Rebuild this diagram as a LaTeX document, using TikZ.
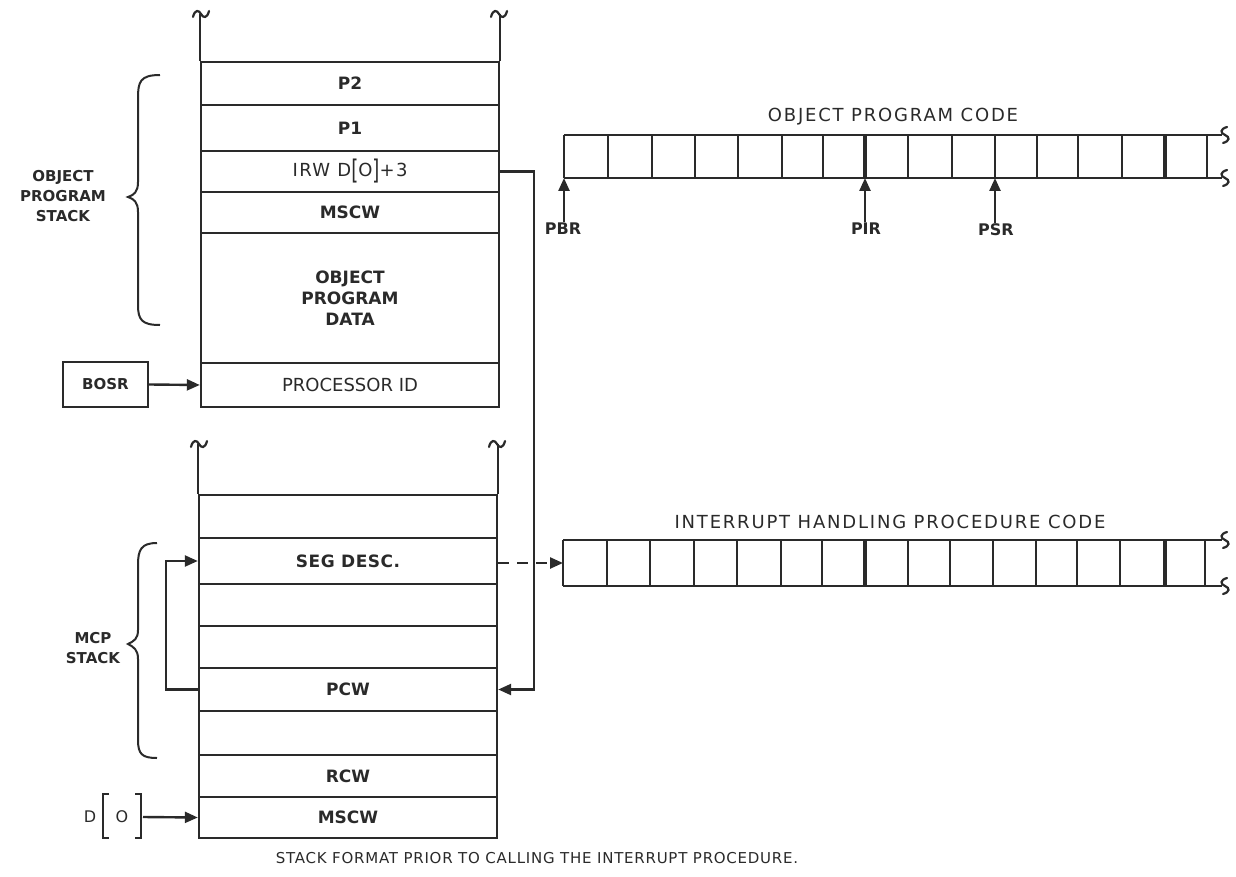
\documentclass[tikz,border=0pt]{standalone}
\usepackage{fontspec}
\setmainfont{DejaVu Sans}
\usetikzlibrary{arrows.meta}
\definecolor{ink}{HTML}{2A2A2A}
\begin{document}
\begin{tikzpicture}[x=1pt,y=-1pt,
  ln/.style={line width=2.4pt, draw=ink},
  cell/.style={draw=ink, line width=2.4pt, minimum width=298pt, inner sep=0pt, text=ink, font=\bfseries\fontsize{17}{21}\selectfont},
  lbl/.style={text=ink, inner sep=1pt, font=\bfseries\fontsize{15}{20}\selectfont, align=center},
  ttl/.style={text=ink, inner sep=1pt, font=\fontsize{18}{21}\selectfont\addfontfeature{LetterSpace=10}},
  arr/.style={-{Triangle[length=13pt,width=11pt]}},
  tld/.pic={\draw[line width=2.2pt, draw=ink, line cap=round] (-8,3) .. controls (-6,-5) and (-2,-4) .. (0,0) .. controls (2,4) and (6,5) .. (8,-3);},
  vsq/.pic={\draw[line width=2.2pt, draw=ink, line cap=round] (2,-8) .. controls (-5,-6) and (-5,-2) .. (0,0) .. controls (5,2) and (5,6) .. (-2,8);}
]
\useasboundingbox (0,0) rectangle (1236,877);

% ---------- object program stack ----------
\node[cell, minimum height=43pt] (p2) at (350,83.5) {P2};
\node[cell, minimum height=46pt] (p1) at (350,128) {P1};
\node[cell, minimum height=41pt, font=\fontsize{18}{21}\selectfont\addfontfeature{LetterSpace=8}] (irw) at (350,171.5) {IRW D\raisebox{-3pt}{\scalebox{1}[1.5]{[}}O\raisebox{-3pt}{\scalebox{1}[1.5]{]}}+3};
\node[cell, minimum height=41pt] (mscw1) at (350,212.5) {MSCW};
\node[cell, minimum height=130pt, align=center] (data) at (350,298) {OBJECT\\PROGRAM\\DATA};
\node[cell, minimum height=44pt, font=\fontsize{18}{21}\selectfont] (pid) at (350,385) {PROCESSOR ID};
\draw[ln] (p2.north west) -- ++(0,-47);
\draw[ln] (p2.north east) -- ++(0,-47);
\pic at (201,14) {tld};
\pic at (499,14) {tld};

% brace + label
\draw[ln, line width=2pt] (160,75) .. controls (140,75) and (138,82) .. (138,98) -- (138,182)
  .. controls (138,192) and (134,195) .. (128,197) .. controls (134,199) and (138,202) .. (138,212)
  -- (138,305) .. controls (138,320) and (142,325) .. (160,325);
\node[lbl] (ops) at (63,196) {OBJECT\\PROGRAM\\STACK};

\node[draw=ink, line width=2.4pt, minimum width=85pt, minimum height=45pt, lbl, inner sep=0pt] (bosr) at (105.5,384.5) {BOSR};
\draw[ln, arr] (bosr.east) -- (pid.west);

% ---------- MCP stack ----------
\node[cell, minimum height=43pt] (r1) at (348,516.5) {};
\node[cell, minimum height=46pt, font=\bfseries\fontsize{17}{21}\selectfont\addfontfeature{LetterSpace=3}] (seg) at (348,561) {SEG DESC.};
\node[cell, minimum height=42pt] (r3) at (348,605) {};
\node[cell, minimum height=42pt] (r4) at (348,647) {};
\node[cell, minimum height=43pt] (pcw) at (348,689.5) {PCW};
\node[cell, minimum height=44pt] (r6) at (348,733) {};
\node[cell, minimum height=42pt] (rcw) at (348,776) {RCW};
\node[cell, minimum height=41pt] (mscw2) at (348,817.5) {MSCW};
\draw[ln] (r1.north west) -- ++(0,-50);
\draw[ln] (r1.north east) -- ++(0,-50);
\pic at (199,444) {tld};
\pic at (497,444) {tld};

\draw[ln, line width=2pt] (157,543) .. controls (141,543) and (138,550) .. (138,565) -- (138,630)
  .. controls (138,639) and (134,641) .. (128,644) .. controls (134,647) and (138,650) .. (138,659)
  -- (138,740) .. controls (138,754) and (142,758) .. (157,758);
\node[lbl] (mcps) at (93,648) {MCP\\STACK};

\draw[ln, arr] (pcw.west) -- ++(-32,0) |- (seg.west);
\draw[ln, arr] (irw.east) -- ++(34,0) |- (pcw.east);

% D[0]
\node[lbl, font=\fontsize{16}{20}\selectfont] (dl) at (90,817) {D};
\draw[ln, line width=2.2pt] (109,794) -- (103,794) -- (103,838) -- (109,838);
\node[lbl, font=\fontsize{16}{20}\selectfont] (dz) at (122,817) {O};
\draw[ln, line width=2.2pt] (135,794) -- (141,794) -- (141,838) -- (135,838);
\coordinate (dout) at (143,817);
\draw[ln, arr] (dout) -- (mscw2.west);

% ---------- object program code ----------
\node[ttl] (opc) at (893,117) {OBJECT PROGRAM CODE};
\draw[ln] (564,135) -- (1222,135);
\draw[ln] (564,178) -- (1222,178);
\foreach \x in {564,608,652,695,738,782,823,908,952,995,1037,1078,1122,1207}
  \draw[ln] (\x,135) -- (\x,178);
\foreach \x in {865,1165}
  \draw[ln, line width=4pt] (\x,135) -- (\x,178);
\pic at (1225,135) {vsq};
\pic at (1225,178) {vsq};

\node[lbl, font=\bfseries\fontsize{16}{20}\selectfont] (pbr) at (563,229) {PBR};
\node[lbl, font=\bfseries\fontsize{16}{20}\selectfont] (pir) at (866,229) {PIR};
\node[lbl, font=\bfseries\fontsize{16}{20}\selectfont] (psr) at (996,230) {PSR};
\coordinate (pbrt) at (564,178);
\coordinate (pirt) at (865,178);
\coordinate (psrt) at (995,178);
\draw[ln, arr] (pbr.north -| pbrt) -- (pbrt);
\draw[ln, arr] (pir.north -| pirt) -- (pirt);
\draw[ln, arr] (psr.north -| psrt) -- (psrt);

% ---------- interrupt handling procedure code ----------
\node[ttl] (ihc) at (890,522) {INTERRUPT HANDLING PROCEDURE CODE};
\draw[ln] (563,540) -- (1222,540);
\draw[ln] (563,586) -- (1222,586);
\foreach \x in {563,607,650,694,737,781,822,908,950,993,1036,1077,1120,1205}
  \draw[ln] (\x,540) -- (\x,586);
\foreach \x in {865,1165}
  \draw[ln, line width=4pt] (\x,540) -- (\x,586);
\pic at (1225,540) {vsq};
\pic at (1225,586) {vsq};
\coordinate (icin) at (563,563);
\draw[ln, dash pattern=on 11pt off 8pt, arr] (seg.east |- icin) -- (icin);

% caption
\node[ttl, font=\fontsize{15}{20}\selectfont\addfontfeature{LetterSpace=5}] (cap) at (537,858) {STACK FORMAT PRIOR TO CALLING THE INTERRUPT PROCEDURE.};
\end{tikzpicture}
\end{document}
